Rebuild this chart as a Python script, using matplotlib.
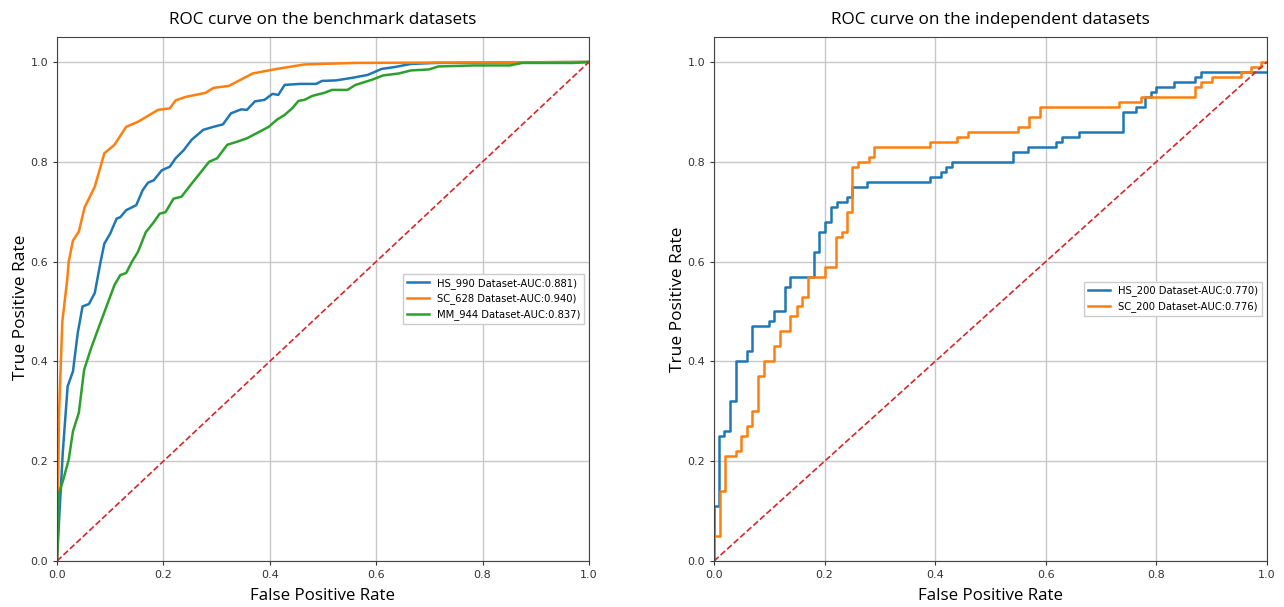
import matplotlib
matplotlib.use("Agg")
import matplotlib.pyplot as plt

# ---------------- data ----------------
hs990_fpr = [0.0, 0.004, 0.011, 0.02, 0.03, 0.039, 0.048, 0.06, 0.071, 0.082, 0.089, 0.1, 0.112, 0.119,
             0.13, 0.149, 0.161, 0.171, 0.182, 0.197, 0.212, 0.223, 0.238, 0.253, 0.275, 0.294, 0.312,
             0.327, 0.346, 0.357, 0.372, 0.39, 0.405, 0.416, 0.428, 0.457, 0.487, 0.498, 0.524, 0.554,
             0.584, 0.595, 0.61, 0.636, 0.665, 0.71, 1.0]
hs990_tpr = [0.0, 0.083, 0.22, 0.35, 0.38, 0.457, 0.51, 0.515, 0.537, 0.6, 0.636, 0.656, 0.686, 0.689,
             0.703, 0.713, 0.743, 0.758, 0.763, 0.783, 0.79, 0.807, 0.823, 0.844, 0.864, 0.87, 0.875,
             0.897, 0.905, 0.904, 0.921, 0.924, 0.936, 0.934, 0.954, 0.956, 0.956, 0.962, 0.963, 0.968,
             0.974, 0.979, 0.986, 0.99, 0.996, 0.998, 1.0]

sc628_fpr = [0.0, 0.004, 0.01, 0.019, 0.022, 0.03, 0.041, 0.052, 0.071, 0.089, 0.108, 0.13, 0.152, 0.19,
             0.212, 0.223, 0.242, 0.279, 0.294, 0.323, 0.368, 0.413, 0.465, 0.561, 1.0]
sc628_tpr = [0.0, 0.3, 0.48, 0.562, 0.6, 0.642, 0.66, 0.709, 0.75, 0.817, 0.834, 0.87, 0.88, 0.904,
             0.907, 0.923, 0.93, 0.938, 0.948, 0.952, 0.977, 0.986, 0.995, 0.998, 1.0]

mm944_fpr = [0.0, 0.004, 0.011, 0.022, 0.03, 0.041, 0.051, 0.063, 0.078, 0.093, 0.108, 0.119, 0.13, 0.141,
             0.152, 0.167, 0.182, 0.193, 0.204, 0.219, 0.234, 0.253, 0.268, 0.286, 0.301, 0.32, 0.338,
             0.357, 0.375, 0.398, 0.413, 0.428, 0.442, 0.454, 0.465, 0.48, 0.502, 0.517, 0.546, 0.561,
             0.591, 0.613, 0.643, 0.665, 0.699, 0.717, 0.784, 0.851, 0.874, 0.97, 1.0]
mm944_tpr = [0.0, 0.137, 0.16, 0.203, 0.26, 0.297, 0.383, 0.423, 0.467, 0.51, 0.553, 0.573, 0.577, 0.6,
             0.619, 0.659, 0.679, 0.696, 0.699, 0.726, 0.73, 0.756, 0.776, 0.8, 0.807, 0.834, 0.84,
             0.847, 0.857, 0.87, 0.884, 0.894, 0.907, 0.922, 0.924, 0.932, 0.938, 0.944, 0.944, 0.954,
             0.964, 0.973, 0.977, 0.983, 0.985, 0.991, 0.993, 0.993, 0.998, 0.998, 1.0]

hs200_fpr = [0.0, 0.0, 0.009, 0.009, 0.018, 0.018, 0.029, 0.029, 0.04, 0.04, 0.059, 0.059, 0.068, 0.068,
             0.099, 0.099, 0.108, 0.108, 0.129, 0.129, 0.138, 0.138, 0.181, 0.181, 0.19, 0.19, 0.2, 0.2,
             0.211, 0.211, 0.222, 0.222, 0.241, 0.241, 0.25, 0.25, 0.277, 0.277, 0.39, 0.39, 0.41, 0.41,
             0.42, 0.42, 0.43, 0.43, 0.54, 0.54, 0.568, 0.568, 0.619, 0.619, 0.63, 0.63, 0.66, 0.66,
             0.74, 0.74, 0.763, 0.763, 0.78, 0.78, 0.79, 0.79, 0.80, 0.80, 0.831, 0.831, 0.87, 0.87,
             0.88, 0.88, 1.0]
hs200_tpr = [0.0, 0.11, 0.11, 0.25, 0.25, 0.26, 0.26, 0.32, 0.32, 0.40, 0.40, 0.42, 0.42, 0.47,
             0.47, 0.48, 0.48, 0.50, 0.50, 0.55, 0.55, 0.57, 0.57, 0.62, 0.62, 0.66, 0.66, 0.68,
             0.68, 0.71, 0.71, 0.72, 0.72, 0.73, 0.73, 0.75, 0.75, 0.76, 0.76, 0.77, 0.77, 0.78,
             0.78, 0.79, 0.79, 0.80, 0.80, 0.82, 0.82, 0.83, 0.83, 0.84, 0.84, 0.85, 0.85, 0.86,
             0.86, 0.90, 0.90, 0.91, 0.91, 0.93, 0.93, 0.94, 0.94, 0.95, 0.95, 0.96, 0.96, 0.97,
             0.97, 0.98, 0.98]

sc200_fpr = [0.0, 0.0, 0.011, 0.011, 0.02, 0.02, 0.04, 0.04, 0.049, 0.049, 0.059, 0.059, 0.068, 0.068,
             0.079, 0.079, 0.09, 0.09, 0.109, 0.109, 0.119, 0.119, 0.138, 0.138, 0.15, 0.15, 0.16, 0.16,
             0.17, 0.17, 0.2, 0.2, 0.22, 0.22, 0.232, 0.232, 0.241, 0.241, 0.25, 0.25, 0.26, 0.26,
             0.28, 0.28, 0.29, 0.29, 0.39, 0.39, 0.44, 0.44, 0.46, 0.46, 0.55, 0.55, 0.57, 0.57,
             0.59, 0.59, 0.732, 0.732, 0.773, 0.773, 0.87, 0.87, 0.88, 0.88, 0.90, 0.90, 0.953, 0.953,
             0.971, 0.971, 0.989, 0.989, 1.0]
sc200_tpr = [0.0, 0.05, 0.05, 0.14, 0.14, 0.21, 0.21, 0.22, 0.22, 0.25, 0.25, 0.27, 0.27, 0.30,
             0.30, 0.37, 0.37, 0.40, 0.40, 0.43, 0.43, 0.46, 0.46, 0.49, 0.49, 0.51, 0.51, 0.53,
             0.53, 0.57, 0.57, 0.59, 0.59, 0.65, 0.65, 0.66, 0.66, 0.70, 0.70, 0.79, 0.79, 0.80,
             0.80, 0.81, 0.81, 0.83, 0.83, 0.84, 0.84, 0.85, 0.85, 0.86, 0.86, 0.87, 0.87, 0.89,
             0.89, 0.91, 0.91, 0.92, 0.92, 0.93, 0.93, 0.95, 0.95, 0.96, 0.96, 0.97, 0.97, 0.98,
             0.98, 0.99, 0.99, 1.0, 1.0]

left_labels = ["HS_990 Dataset-AUC:0.881)", "SC_628 Dataset-AUC:0.940)", "MM_944 Dataset-AUC:0.837)"]
right_labels = ["HS_200 Dataset-AUC:0.770)", "SC_200 Dataset-AUC:0.776)"]
titles = ["ROC curve on the benchmark datasets", "ROC curve on the independent datasets"]
ticks = [0.0, 0.2, 0.4, 0.6, 0.8, 1.0]

# ---------------- figure ----------------
fig = plt.figure(figsize=(12.84, 6.07), dpi=100)
ax1 = fig.add_axes([57 / 1284, 1 - 561 / 607, 532 / 1284, 524 / 607])
ax2 = fig.add_axes([714 / 1284, 1 - 561 / 607, 553 / 1284, 524 / 607])

label_font = "Open Sans"
colors = ["#1f77b4", "#ff7f0e", "#2ca02c"]

ax1.plot(hs990_fpr, hs990_tpr, color=colors[0], lw=1.8, label=left_labels[0])
ax1.plot(sc628_fpr, sc628_tpr, color=colors[1], lw=1.8, label=left_labels[1])
ax1.plot(mm944_fpr, mm944_tpr, color=colors[2], lw=1.8, label=left_labels[2])

ax2.plot(hs200_fpr, hs200_tpr, color=colors[0], lw=1.8, label=right_labels[0])
ax2.plot(sc200_fpr, sc200_tpr, color=colors[1], lw=1.8, label=right_labels[1])

for ax, title in zip([ax1, ax2], titles):
    ax.plot([0, 1], [0, 1], color="#d62728", ls="--", lw=1.2)
    ax.set_xlim(0, 1.0)
    ax.set_ylim(0, 1.05)
    ax.set_xticks(ticks)
    ax.set_yticks(ticks)
    ax.tick_params(labelsize=8, colors="#333333", length=3)
    ax.grid(True, color="#c8c8c8", lw=1.0)
    ax.set_axisbelow(True)
    for s in ax.spines.values():
        s.set_color("#444444")
    ax.set_title(title, fontsize=12.3, family=label_font, pad=9.5)
    ax.set_xlabel("False Positive Rate", fontsize=12.2, family=label_font, labelpad=6)
    ax.set_ylabel("True Positive Rate", fontsize=12.5, family=label_font, labelpad=1)
    ax.legend(loc="center right", fontsize=7.2, frameon=True, framealpha=1,
              edgecolor="#cccccc", fancybox=False, handlelength=2.2)

ax1.yaxis.set_label_coords(-0.052, 0.485)

fig.savefig("out.png", dpi=100)
